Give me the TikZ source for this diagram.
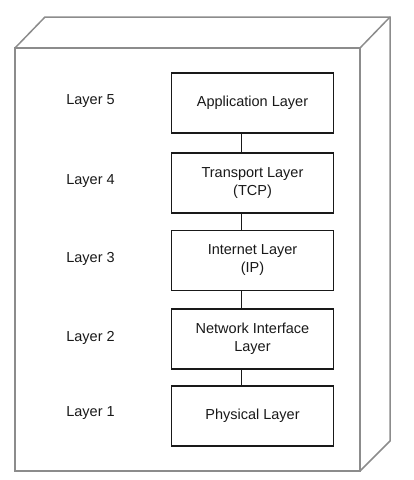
\documentclass[tikz,border=0pt]{standalone}
\usepackage{fontspec}
\setmainfont{Liberation Sans}
\usetikzlibrary{positioning}
\definecolor{edgegray}{rgb}{0.55,0.55,0.55}
\definecolor{inkblack}{rgb}{0.1,0.1,0.1}
\tikzset{
  nodeedge/.style={draw=edgegray, line width=1.5pt, line join=miter},
  layerbox/.style={draw=inkblack, line width=1.2pt, fill=white,
    minimum width=162pt, minimum height=60pt, align=center,
    font=\fontsize{14.5pt}{18pt}\selectfont, text=inkblack, inner sep=0pt},
  layerlabel/.style={font=\fontsize{14.5pt}{18pt}\selectfont, text=inkblack, inner sep=0pt},
  link/.style={draw=inkblack, line width=1pt}
}
\begin{document}
\begin{tikzpicture}[x=1pt, y=-1pt]
  \useasboundingbox (0,0) rectangle (414,480);
  % three-dimensional node outline
  \draw[nodeedge] (15,48) rectangle (360,471);
  \draw[nodeedge] (15,48) -- (45,17) -- (390,17) -- (390,441) -- (360,471);
  \draw[nodeedge] (360,48) -- (390,17);

  % protocol stack
  \node[layerbox] (app)  at (252.5,103)   {Application Layer};
  \node[layerbox] (tcp)  at (252.5,183)   {Transport Layer\\(TCP)};
  \node[layerbox] (ip)   at (252.5,260.5) {Internet Layer\\(IP)};
  \node[layerbox] (net)  at (252.5,339)   {Network Interface\\Layer};
  \node[layerbox] (phys) at (252.5,416)   {Physical Layer};

  % links between adjacent layers
  \draw[link] ([xshift=-11pt]app.south) -- ([xshift=-11pt]tcp.north);
  \draw[link] ([xshift=-11pt]tcp.south) -- ([xshift=-11pt]ip.north);
  \draw[link] ([xshift=-11pt]ip.south)  -- ([xshift=-11pt]net.north);
  \draw[link] ([xshift=-11pt]net.south) -- ([xshift=-11pt]phys.north);

  % layer numbers
  \node[layerlabel] (l5) at (90.5,101) {Layer 5};
  \node[layerlabel] (l4) at (90.5,181) {Layer 4};
  \node[layerlabel] (l3) at (90.5,259) {Layer 3};
  \node[layerlabel] (l2) at (90.5,338) {Layer 2};
  \node[layerlabel] (l1) at (90.5,413) {Layer 1};
\end{tikzpicture}
\end{document}
